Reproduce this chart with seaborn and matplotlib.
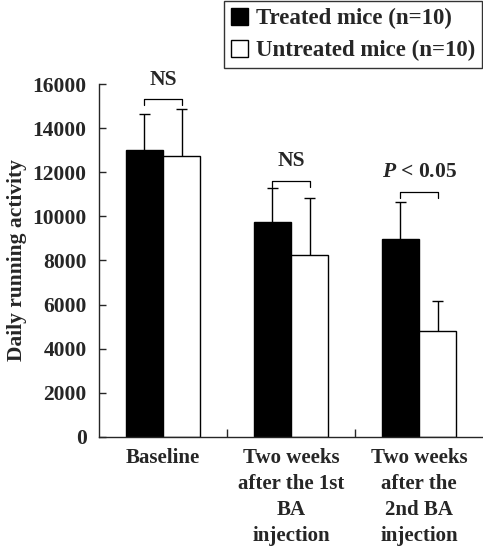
import numpy as np
import pandas as pd
import matplotlib
matplotlib.use("Agg")
import matplotlib.pyplot as plt
import seaborn as sns
from matplotlib.patches import Patch

# dados
grupos = ["Baseline", "Two weeks\nafter the 1st\nBA\ninjection", "Two weeks\nafter the\n2nd BA\ninjection"]
series = ["Treated mice (n=10)", "Untreated mice (n=10)"]
tratados = [13000, 9730, 8960]
nao_tratados = [12740, 8250, 4800]
erro_tratados = [1640, 1540, 1680]
erro_nao_tratados = [2130, 2570, 1380]
rotulos_sig = ["NS", "NS", "$\\bfit{P}$ < 0.05"]
nivel_sig = [15300, 11600, 11100]

df = pd.DataFrame({
    "grupo": grupos * 2,
    "serie": [series[0]] * 3 + [series[1]] * 3,
    "valor": tratados + nao_tratados,
})

sns.set_style("ticks")
plt.rcParams["font.family"] = ["Liberation Serif", "DejaVu Serif"]
plt.rcParams["font.weight"] = "bold"
plt.rcParams["mathtext.fontset"] = "custom"
plt.rcParams["mathtext.bfit"] = "Liberation Serif:bold:italic"

fig = plt.figure(figsize=(4.83, 5.48), dpi=100)
ax = fig.add_axes([0.205, 0.2026, 0.795, 0.6441])

sns.barplot(data=df, x="grupo", y="valor", hue="serie", order=grupos, hue_order=series,
            palette=["black", "white"], edgecolor="black", linewidth=1.0,
            width=0.58, errorbar=None, legend=False, ax=ax)

# barras de erro só para cima
erros = erro_tratados + erro_nao_tratados
centros = []
for p, e in zip(ax.patches[:6], erros):
    xc = p.get_x() + p.get_width() / 2
    top = p.get_height()
    centros.append(xc)
    ax.vlines(xc, top, top + e, color="black", lw=1.0)
    ax.hlines(top + e, xc - 0.045, xc + 0.045, color="black", lw=1.0)

# colchetes de significância
for i in range(3):
    x1, x2 = centros[i], centros[i + 3]
    y = nivel_sig[i]
    ax.plot([x1, x1, x2, x2], [y - 250, y, y, y - 250], color="black", lw=0.9, clip_on=False)
    ax.text((x1 + x2) / 2, y + 450, rotulos_sig[i], ha="center", va="bottom",
            fontsize=15.5, fontweight="bold", clip_on=False)

ax.set_ylim(0, 16000)
ax.set_xlim(-0.5, 2.5)
ax.set_yticks(np.arange(0, 16001, 2000))
ax.tick_params(axis="y", labelsize=15.5, length=5, width=1, direction="in", pad=9)
ax.tick_params(axis="x", labelsize=15, length=0, pad=8)
ax.set_xticks([0.5, 1.5], minor=True)
ax.tick_params(axis="x", which="minor", direction="in", length=6, width=1)
for lab in ax.get_xticklabels():
    lab.set_linespacing(1.4)
    lab.set_fontweight("bold")
for lab in ax.get_yticklabels():
    lab.set_fontweight("bold")
sns.despine(ax=ax)
for s in ["left", "bottom"]:
    ax.spines[s].set_linewidth(1.0)
ax.set_xlabel("")
ax.set_ylabel("Daily running activity", fontsize=15.5, fontweight="bold", labelpad=4)

handles = [Patch(facecolor="black", edgecolor="black"), Patch(facecolor="white", edgecolor="black")]
leg = fig.legend(handles, series, loc="upper right", bbox_to_anchor=(1.0, 1.0),
                 prop={"size": 16.5, "weight": "bold"}, frameon=True, fancybox=False,
                 borderaxespad=0.05, handlelength=0.75, handleheight=0.75, handletextpad=0.35,
                 borderpad=0.3, labelspacing=0.45)
leg.get_frame().set_edgecolor("black")
leg.get_frame().set_linewidth(1.0)

fig.savefig("out.png", dpi=100)
